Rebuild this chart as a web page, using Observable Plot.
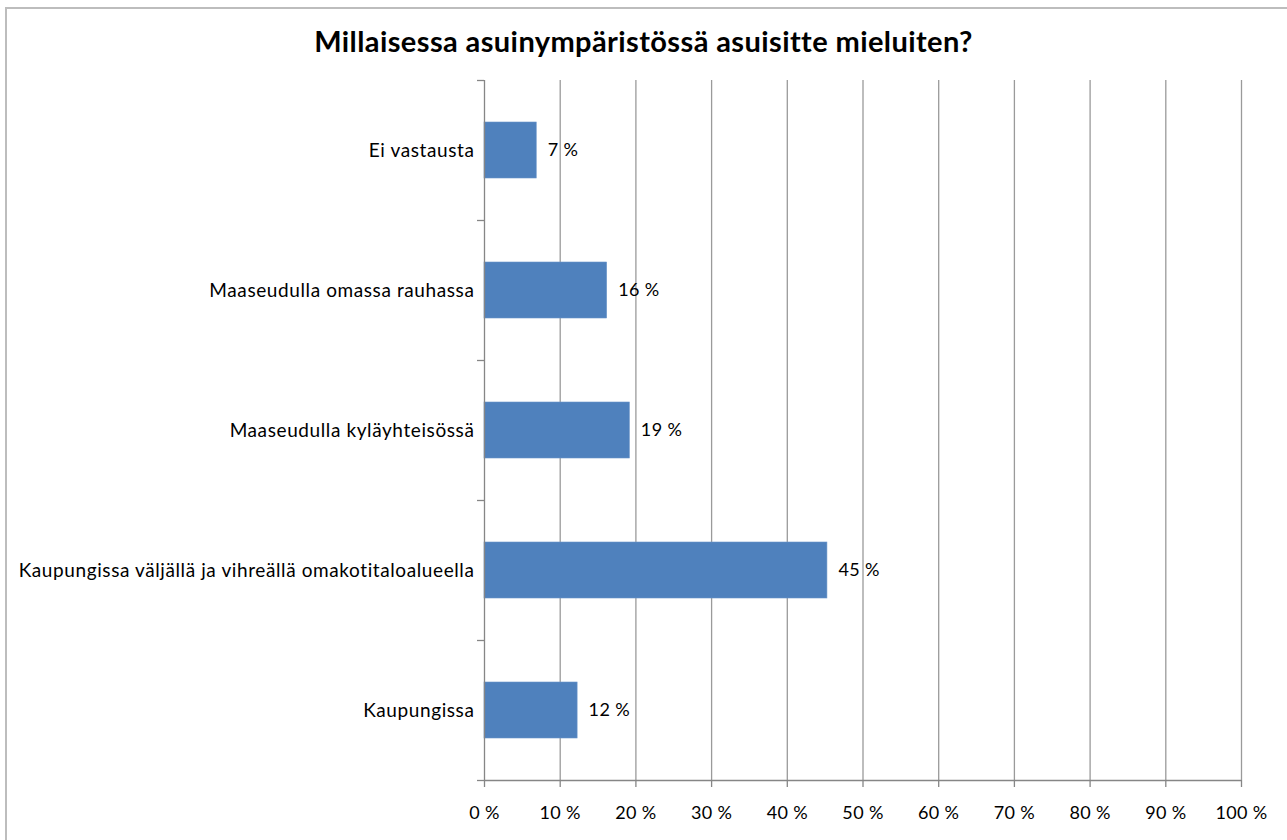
<!DOCTYPE html>
<html>
<head>
<meta charset="utf-8">
<script src="https://cdn.jsdelivr.net/npm/d3@7"></script>
<script src="https://cdn.jsdelivr.net/npm/@observablehq/plot@0.6"></script>
<style>
  html, body { margin: 0; padding: 0; background: #fff; overflow: hidden; }
  #frame { position: absolute; left: 5px; top: 7px; width: 1400px; height: 1000px;
           border-left: 2px solid #bdbdbd; border-top: 2px solid #bdbdbd; box-sizing: border-box; }
  #wrap { position: absolute; left: 0; top: 0; width: 1287px; }
  #title { height: 70px; box-sizing: border-box; padding-top: 26px; text-align: center;
           font-family: Lato, sans-serif; font-weight: bold; font-size: 29px; color: #000;
           letter-spacing: 0.4px; line-height: 30px; }
  svg { display: block; }
  svg text { letter-spacing: 0.35px; }
  svg g.catlabels text { letter-spacing: 0.6px; }
</style>
</head>
<body>
<div id="frame"></div>
<div id="wrap">
  <div id="title">Millaisessa asuinympäristössä asuisitte mieluiten?</div>
  <div id="chart"></div>
</div>
<script>
const categories = [
  "Ei vastausta",
  "Maaseudulla omassa rauhassa",
  "Maaseudulla kyläyhteisössä",
  "Kaupungissa väljällä ja vihreällä omakotitaloalueella",
  "Kaupungissa"
];
const values = [6.9, 16.2, 19.2, 45.3, 12.3];
const labels = ["7 %", "16 %", "19 %", "45 %", "12 %"];
const xTicks = [0, 10, 20, 30, 40, 50, 60, 70, 80, 90, 100];
const yBoundaries = [0, 1, 2, 3, 4, 5];

const data = categories.map((c, i) => ({category: c, index: i, value: values[i], label: labels[i]}));

const axisColor = "#868686";
const gridColor = "#9a9a9a";

const chart = Plot.plot({
  width: 1287,
  height: 770,
  marginTop: 10,
  marginBottom: 60,
  marginLeft: 484,
  marginRight: 46,
  style: {fontFamily: "Lato, sans-serif", fontSize: "18px", color: "#000", background: "transparent"},
  x: {domain: [0, 100], ticks: xTicks},
  y: {domain: [0, 5], reverse: true},
  marks: [
    Plot.gridX(xTicks.slice(1), {stroke: gridColor, strokeOpacity: 1, strokeWidth: 1.3}),
    Plot.rectX(data, {x1: 0, x2: "value", y1: d => d.index + 0.3, y2: d => d.index + 0.7, fill: "#4f81bd", stroke: "#6a95c9", strokeWidth: 0.6}),
    Plot.ruleX([0], {stroke: axisColor, strokeWidth: 1.3}),
    Plot.ruleY([5], {stroke: axisColor, strokeWidth: 1.3}),
    Plot.axisX({ticks: xTicks, tickSize: 7, tickPadding: 19, stroke: axisColor, strokeWidth: 1.3, tickFormat: d => d + " %", fontSize: 18, fill: "#000", label: null}),
    Plot.axisY({ticks: yBoundaries, tickSize: 7, stroke: axisColor, strokeWidth: 1.3, tickFormat: () => "", label: null}),
    Plot.text(data, {x: 0, y: d => d.index + 0.5, text: "category", textAnchor: "end", dx: -10, fontSize: 19, fill: "#000", className: "catlabels"}),
    Plot.text(data, {x: "value", y: d => d.index + 0.5, text: "label", textAnchor: "start", dx: 11, fontSize: 18, fill: "#000"})
  ]
});
document.getElementById("chart").appendChild(chart);
</script>
</body>
</html>
